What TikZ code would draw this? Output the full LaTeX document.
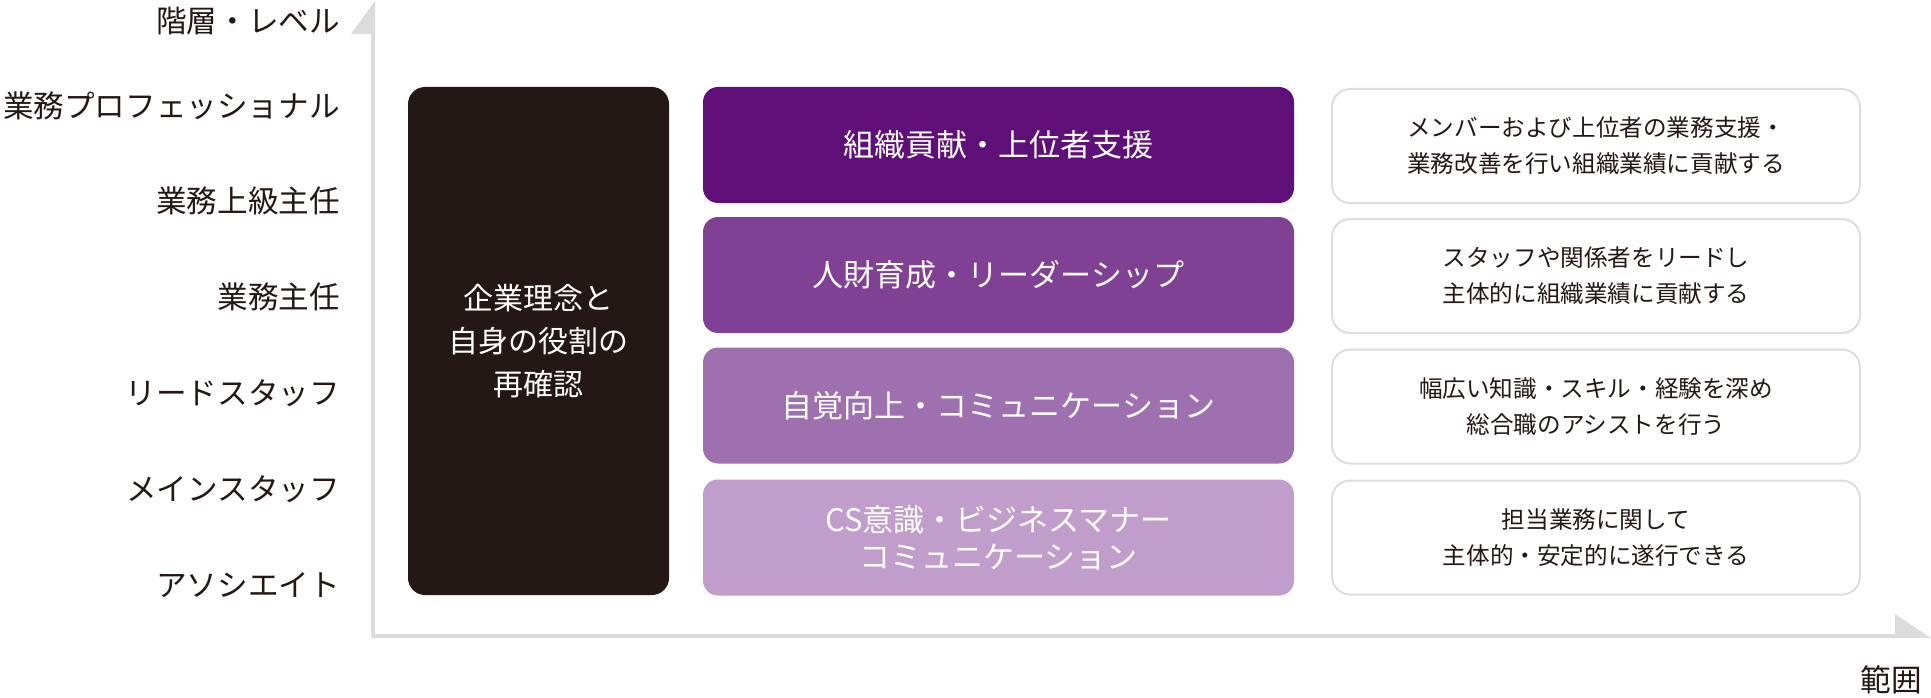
\documentclass[tikz,border=0pt]{standalone}
\usepackage{fontspec}
\setmainfont{Noto Sans CJK JP}
\definecolor{ink}{HTML}{231815}
\definecolor{axisgray}{HTML}{DCDCDC}
\definecolor{pA}{HTML}{5F1078}
\definecolor{pB}{HTML}{804094}
\definecolor{pC}{HTML}{9E70AF}
\definecolor{pD}{HTML}{C09DCA}
\definecolor{boxline}{HTML}{DEDEDE}
\begin{document}
\begin{tikzpicture}[x=1pt,y=-1pt,
  lvl/.style={anchor=east, inner sep=0pt, font=\fontsize{30.6}{36}\selectfont, text=ink},
  core/.style={fill=ink, rounded corners=17pt, minimum width=261pt, minimum height=508pt, inner sep=0pt, text=white, align=center, font=\fontsize{30}{43}\selectfont},
  skill/.style={rounded corners=15pt, minimum width=591pt, minimum height=116pt, inner sep=0pt, text=white, align=center, font=\fontsize{31}{37}\selectfont},
  desc/.style={draw=boxline, line width=2pt, fill=white, rounded corners=18pt, minimum width=528pt, minimum height=114pt, inner sep=0pt, text=ink, align=center, font=\fontsize{23.6}{36}\selectfont},
  axisline/.style={draw=axisgray, line width=4pt},
]
\useasboundingbox (0,0) rectangle (1931,698);

% axes
\coordinate (ytop) at (373,33);
\coordinate (origin) at (373,636);
\coordinate (xend) at (1896,636);
\draw[axisline] (ytop) -- (373,638);
\draw[axisline] (371,636) -- (xend);
\fill[axisgray] (351,34) -- (375,1) -- (375,34) -- cycle;
\fill[axisgray] (1895,614) -- (1931,638) -- (1895,638) -- cycle;

% level labels
\node[lvl] (l0) at (340,21) {階層・レベル};
\node[lvl] (l1) at (340,106) {業務プロフェッショナル};
\node[lvl] (l2) at (340,201) {業務上級主任};
\node[lvl] (l3) at (340,297) {業務主任};
\node[lvl] (l4) at (340,393) {リードスタッフ};
\node[lvl] (l5) at (340,489) {メインスタッフ};
\node[lvl] (l6) at (340,585) {アソシエイト};
\node[lvl] (range) at (1922,680) {範囲};

% core box
\node[core] (core) at (538.5,341) {企業理念と\\自身の役割の\\再確認};

% skill boxes
\node[skill, fill=pA] (s1) at (998.5,145) {組織貢献・上位者支援};
\node[skill, fill=pB] (s2) at (998.5,275) {人財育成・リーダーシップ};
\node[skill, fill=pC] (s3) at (998.5,405.5) {自覚向上・コミュニケーション};
\node[skill, fill=pD] (s4) at (998.5,537.5) {CS意識・ビジネスマナー\\コミュニケーション};

% description boxes
\node[desc] (d1) at (1596,146) {メンバーおよび上位者の業務支援・\\業務改善を行い組織業績に貢献する};
\node[desc] (d2) at (1596,276) {スタッフや関係者をリードし\\主体的に組織業績に貢献する};
\node[desc] (d3) at (1596,406.5) {幅広い知識・スキル・経験を深め\\総合職のアシストを行う};
\node[desc] (d4) at (1596,537.5) {担当業務に関して\\主体的・安定的に遂行できる};
\end{tikzpicture}
\end{document}
